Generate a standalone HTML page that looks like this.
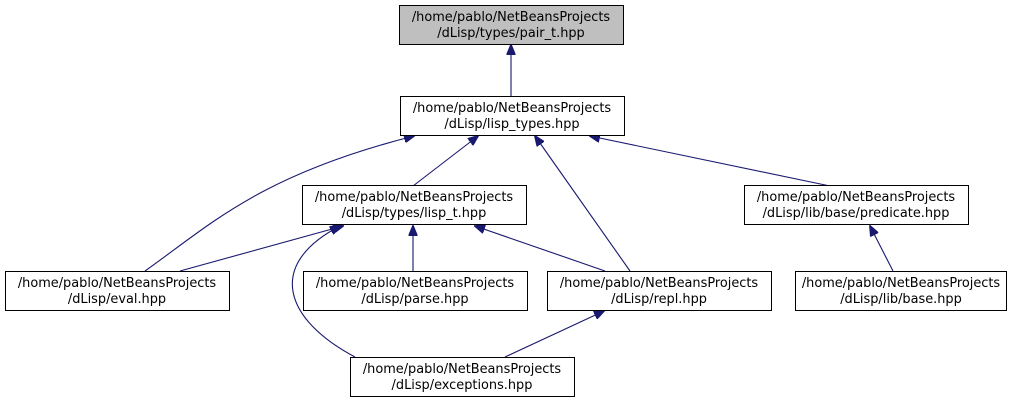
<!DOCTYPE html>
<html><head><style>
html,body{margin:0;padding:0;background:#fff;}
text{font-family:"DejaVu Sans","Liberation Sans",sans-serif;font-size:12.9px;}
</style></head><body>
<svg width="1023" height="409" viewBox="0 0 1023 409" xmlns="http://www.w3.org/2000/svg">
<defs>
<marker id="a" markerWidth="11" markerHeight="9" refX="10" refY="4.5" orient="auto" markerUnits="userSpaceOnUse">
<polygon points="0,0 11,4.5 0,9" fill="#191970" stroke="#191970"/>
</marker>
</defs>
<g fill="none" stroke="#191970" stroke-width="1.1" marker-end="url(#a)">
<path d="M511,96 L511,45"/>
<path d="M413,186 L478,136"/>
<path d="M145,271 C210,225 260,175 414,136"/>
<path d="M630,271 L535,136"/>
<path d="M830,186 L590,136"/>
<path d="M893,271 L870,226"/>
<path d="M180,271 L343,226"/>
<path d="M413,271 L413,226"/>
<path d="M605,271 L475,226"/>
<path d="M355,357 C285,320 265,265 340,226"/>
<path d="M505,357 L604,311"/>
</g>
<g stroke="#000" stroke-width="1" fill="#fff">
<rect x="399.5" y="5.5" width="224" height="39" fill="#bfbfbf"/>
<rect x="400.5" y="96.5" width="224" height="39"/>
<rect x="302.5" y="185.5" width="224" height="39"/>
<rect x="744.5" y="185.5" width="224" height="39"/>
<rect x="5.5" y="271.5" width="224" height="39"/>
<rect x="303.5" y="271.5" width="224" height="39"/>
<rect x="547.5" y="271.5" width="224" height="39"/>
<rect x="795.5" y="271.5" width="211" height="39"/>
<rect x="350.5" y="357.5" width="224" height="39"/>
</g>
<g text-anchor="middle" fill="#000">
<text x="511" y="21">/home/pablo/NetBeansProjects</text><text x="511" y="37">/dLisp/types/pair_t.hpp</text>
<text x="512" y="112">/home/pablo/NetBeansProjects</text><text x="512" y="128">/dLisp/lisp_types.hpp</text>
<text x="414" y="201">/home/pablo/NetBeansProjects</text><text x="414" y="217">/dLisp/types/lisp_t.hpp</text>
<text x="856" y="201">/home/pablo/NetBeansProjects</text><text x="856" y="217">/dLisp/lib/base/predicate.hpp</text>
<text x="117" y="287">/home/pablo/NetBeansProjects</text><text x="117" y="303">/dLisp/eval.hpp</text>
<text x="415" y="287">/home/pablo/NetBeansProjects</text><text x="415" y="303">/dLisp/parse.hpp</text>
<text x="659" y="287">/home/pablo/NetBeansProjects</text><text x="659" y="303">/dLisp/repl.hpp</text>
<text x="901" y="287">/home/pablo/NetBeansProjects</text><text x="901" y="303">/dLisp/lib/base.hpp</text>
<text x="462" y="373">/home/pablo/NetBeansProjects</text><text x="462" y="389">/dLisp/exceptions.hpp</text>
</g>
</svg>
</body></html>
